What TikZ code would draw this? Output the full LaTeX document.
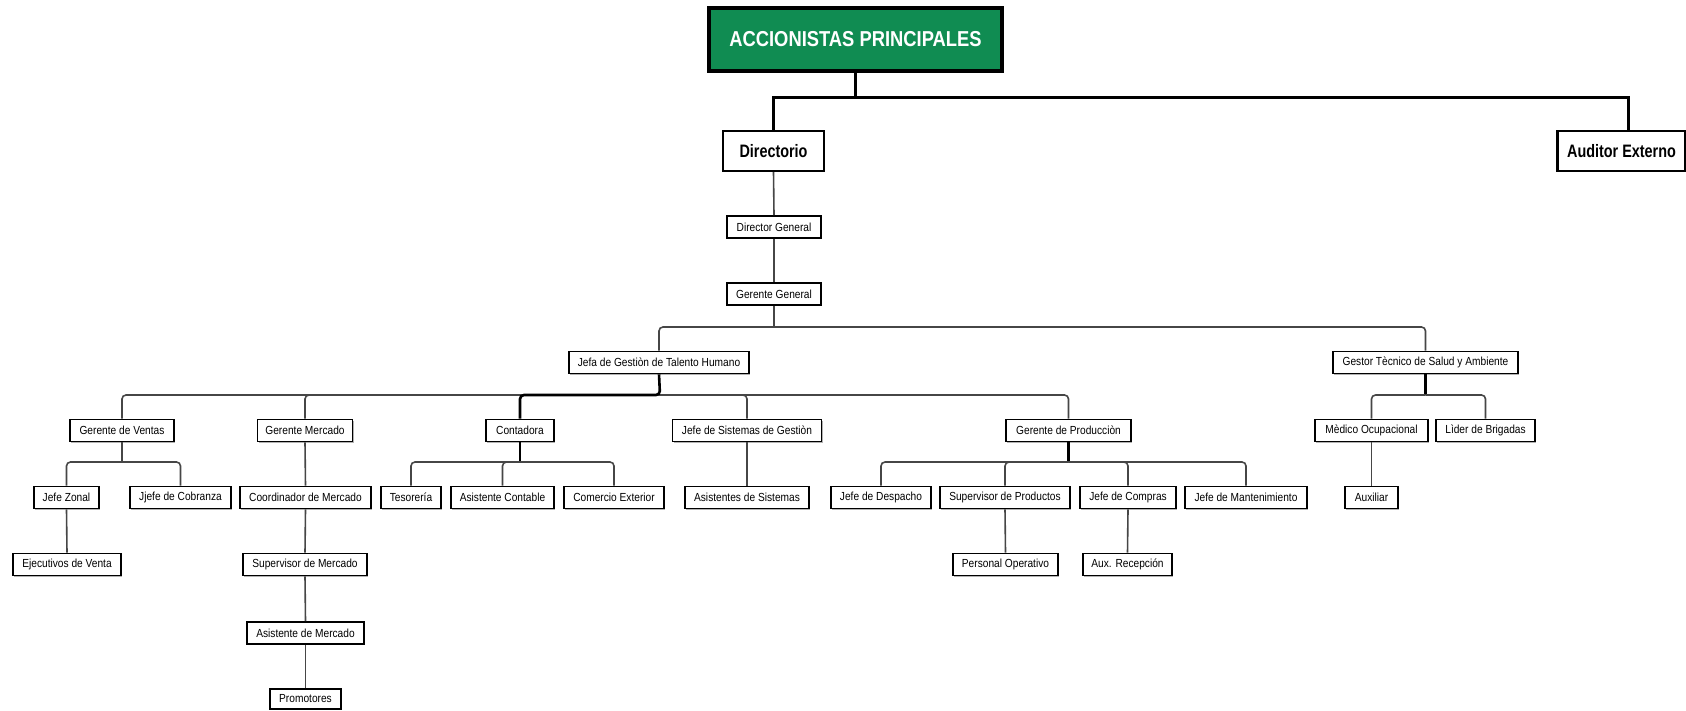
\documentclass[tikz,border=0pt]{standalone}
\usepackage{fontspec}
\setmainfont{Liberation Sans}
\newfontfamily\orgsmall{Liberation Sans}[FakeStretch=0.87]
\newfontfamily\orgbold{Liberation Sans}[FakeStretch=0.80]
\newfontfamily\orgtop{Liberation Sans}[FakeStretch=0.85]
\usetikzlibrary{shadows}
\definecolor{boardgreen}{RGB}{16,140,82}
\definecolor{linkgray}{RGB}{70,70,70}
\tikzset{
  x=1pt, y=-1pt,
  topbox/.style={draw=black, line width=3.2pt, fill=boardgreen, text=white,
    font=\orgtop\bfseries\fontsize{21.6}{24}\selectfont,
    minimum width=293pt, minimum height=63pt, inner sep=0pt,
    drop shadow={shadow xshift=1.5pt, shadow yshift=-1.5pt, fill=gray!55, opacity=1}},
  mainbox/.style={draw=black, line width=2.2pt, fill=white,
    font=\orgbold\bfseries\fontsize{18}{20}\selectfont,
    minimum height=40pt, inner sep=0pt},
  unitbox/.style={draw=black, line width=1.6pt, fill=white,
    font=\orgsmall\fontsize{11.7}{13}\selectfont,
    minimum height=22pt, inner sep=0pt,
    drop shadow={shadow xshift=1.2pt, shadow yshift=-1.2pt, fill=gray!60, opacity=1}},
  toplink/.style={draw=black, line width=3pt},
  link/.style={draw=linkgray, line width=1.6pt, rounded corners=4pt},
  boldlink/.style={draw=black, line width=2.6pt, rounded corners=4pt},
}
\begin{document}
\begin{tikzpicture}
\fill[white] (0,0) rectangle (1686,710);
\useasboundingbox (0,0) rectangle (1686,710);

% board and top level
\node[topbox] (acc) at (855.5,39.5) {ACCIONISTAS PRINCIPALES};
\node[mainbox, minimum width=101pt] (dir) at (773.5,151) {Directorio};
\node[mainbox, minimum width=128pt] (aud) at (1621.5,151) {Auditor Externo};

\node[unitbox, minimum width=94pt] (dg) at (774,227) {Director General};
\node[unitbox, minimum width=94pt] (gg) at (774,294) {Gerente General};

\node[unitbox, minimum width=180pt] (jefa) at (659,362.5) {Jefa de Gestiòn de Talento Humano};
\node[unitbox, minimum width=185pt] (gestor) at (1425.5,362.5) {Gestor Tècnico de Salud y Ambiente};

% third level
\node[unitbox, minimum width=104pt] (gv) at (122,430.5) {Gerente de Ventas};
\node[unitbox, minimum width=95pt] (gm) at (305,430.5) {Gerente Mercado};
\node[unitbox, minimum width=68pt] (cont) at (520,430.5) {Contadora};
\node[unitbox, minimum width=149pt] (jss) at (747,430.5) {Jefe de Sistemas de Gestiòn};
\node[unitbox, minimum width=125pt] (gp) at (1068.5,430.5) {Gerente de Producciòn};
\node[unitbox, minimum width=113pt] (med) at (1371.5,430.5) {Mèdico Ocupacional};
\node[unitbox, minimum width=99pt] (lid) at (1485.5,430.5) {Lìder de Brigadas};

% fourth level
\node[unitbox, minimum width=65pt] (jz) at (66.5,497.5) {Jefe Zonal};
\node[unitbox, minimum width=101pt] (jc) at (180.5,497.5) {Jjefe de Cobranza};
\node[unitbox, minimum width=131pt] (coord) at (305.5,497.5) {Coordinador de Mercado};
\node[unitbox, minimum width=60pt] (tes) at (411,497.5) {Tesorería};
\node[unitbox, minimum width=103pt] (ac) at (502.5,497.5) {Asistente Contable};
\node[unitbox, minimum width=100pt] (ce) at (614,497.5) {Comercio Exterior};
\node[unitbox, minimum width=124pt] (asis) at (747,497.5) {Asistentes de Sistemas};
\node[unitbox, minimum width=100pt] (jd) at (881,497.5) {Jefe de Despacho};
\node[unitbox, minimum width=130pt] (sp) at (1005,497.5) {Supervisor de Productos};
\node[unitbox, minimum width=96pt] (jcomp) at (1128,497.5) {Jefe de Compras};
\node[unitbox, minimum width=122pt] (jm) at (1246,497.5) {Jefe de Mantenimiento};
\node[unitbox, minimum width=53pt] (aux) at (1371.5,497.5) {Auxiliar};

% fifth level and below
\node[unitbox, minimum width=108pt] (ev) at (67,564.5) {Ejecutivos de Venta};
\node[unitbox, minimum width=124pt] (sm) at (305,564.5) {Supervisor de Mercado};
\node[unitbox, minimum width=105pt] (po) at (1005.5,564.5) {Personal Operativo};
\node[unitbox, minimum width=89pt] (ar) at (1127.5,564.5) {Aux. Recepción};
\node[unitbox, minimum width=117pt] (am) at (305.5,633) {Asistente de Mercado};
\node[unitbox, minimum width=71pt, minimum height=20pt] (prom) at (305.5,699) {Promotores};

% junction points of the branches
\coordinate (j0) at (855.5,97);
\coordinate (j1) at (774,327);
\coordinate (j2) at (660,395);
\coordinate (j2c) at (520,395);
\coordinate (j3) at (122,462);
\coordinate (j4) at (520,462);
\coordinate (j5) at (1068.5,462);
\coordinate (j6) at (1425.5,395);

% top connectors
\draw[toplink] (acc.south) -- (j0);
\draw[toplink] (j0) -| (dir.north);
\draw[toplink] (j0) -| ([xshift=6.5pt]aud.north);

% chain below the board
\draw[link] (dir.south) -- (dg.north);
\draw[link] (dg.south) -- (gg.north);
\draw[link] (gg.south) -- (j1);
\draw[link] (j1) -| (jefa.north);
\draw[link] (j1) -| (gestor.north);

% human resources branch
\draw[link] (j2) -| (gv.north);
\draw[link] (j2) -| (gm.north);
\draw[link] (j2) -| (jss.north);
\draw[link] (j2) -| (gp.north);
\draw[boldlink] (jefa.south) -- (j2) -- (j2c) -- (cont.north);

% sales
\draw[link] (gv.south) -- (j3);
\draw[link] (j3) -| (jz.north);
\draw[link] (j3) -| (jc.north);
\draw[link] (jz.south) -- (ev.north);

% market
\draw[link] (gm.south) -- (coord.north);
\draw[link] (coord.south) -- (sm.north);
\draw[link] (sm.south) -- (am.north);
\draw[link] (am.south) -- (prom.north);

% accounting
\draw[boldlink] (cont.south) -- (j4);
\draw[link] (j4) -| (tes.north);
\draw[link] (j4) -| (ac.north);
\draw[link] (j4) -| (ce.north);

% systems
\draw[link] (jss.south) -- (asis.north);

% production
\draw[boldlink] (gp.south) -- (j5);
\draw[link] (j5) -| (jd.north);
\draw[link] (j5) -| (sp.north);
\draw[link] (j5) -| (jcomp.north);
\draw[link] (j5) -| (jm.north);
\draw[link] (sp.south) -- (po.north);
\draw[link] (jcomp.south) -- (ar.north);

% health and environment
\draw[boldlink] (gestor.south) -- (j6);
\draw[link] (j6) -| (med.north);
\draw[link] (j6) -| (lid.north);
\draw[link] (med.south) -- (aux.north);
\end{tikzpicture}
\end{document}
